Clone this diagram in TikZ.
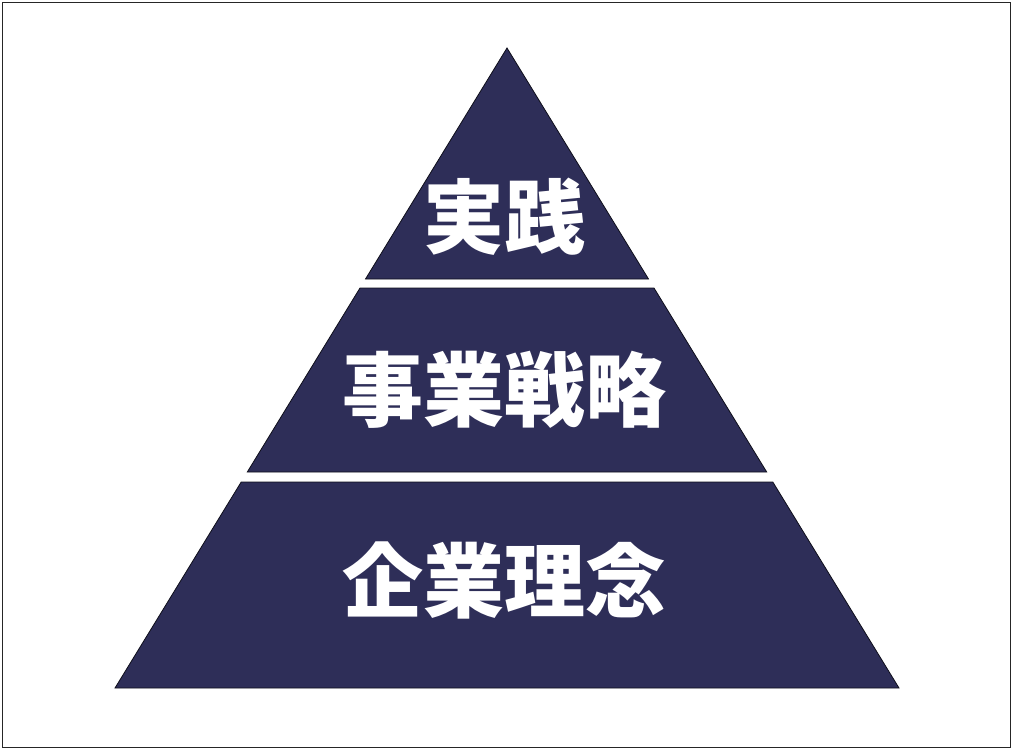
\documentclass[tikz,border=0pt]{standalone}
\usepackage{fontspec}
\newfontfamily\jpfont{Noto Sans CJK JP}
\usepackage{tikz}
\usetikzlibrary{positioning}
\definecolor{pyrnavy}{RGB}{46,46,88}
\tikzset{
  band/.style={fill=pyrnavy, draw=black!70!pyrnavy, line width=0.8pt, line join=miter},
  bandlabel/.style={inner sep=0pt, text=white, font=\jpfont\bfseries\fontsize{81}{90}\selectfont}
}

\begin{document}
\begin{tikzpicture}[x=1pt,y=1pt]
\useasboundingbox (0,0) rectangle (1014,-751);
\draw [black!85, line width=1pt] (2.5,-2.5) rectangle (1010.5,-747.5);
% top band
\draw [band] (507,-48) -- (648.5,-279) -- (365.5,-279) -- cycle;
\node [bandlabel] (top) at (504,-217) {実践};
% middle band
\draw [band] (360,-288) -- (654,-288) -- (766.7,-472) -- (247.3,-472) -- cycle;
\node [bandlabel] (mid) at (504,-390) {事業戦略};
% base band
\draw [band] (241.2,-482) -- (772.8,-482) -- (899,-688) -- (115,-688) -- cycle;
\node [bandlabel] (base) at (504,-580) {企業理念};
\end{tikzpicture}
\end{document}
